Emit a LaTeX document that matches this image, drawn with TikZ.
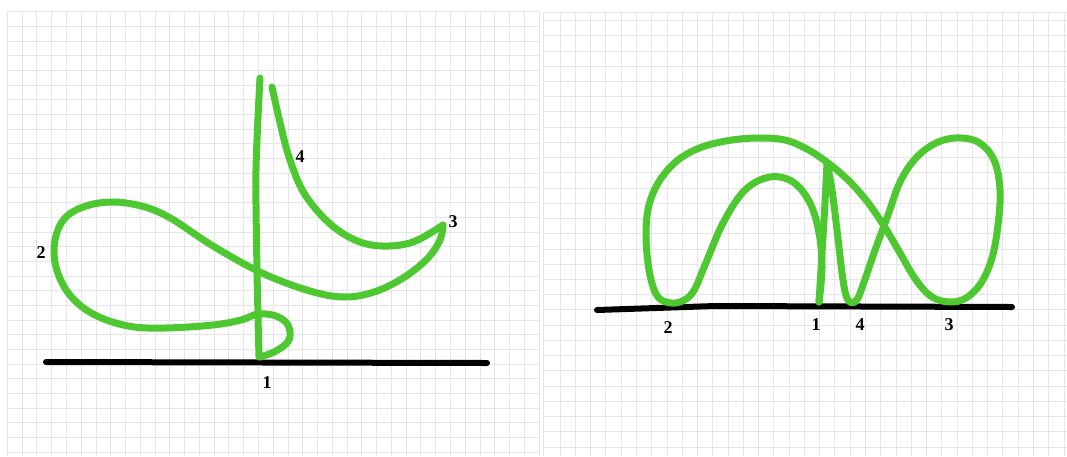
\documentclass[tikz,border=0pt]{standalone}
\usepackage{fontspec}
\setmainfont{Liberation Serif}
\definecolor{strokegreen}{RGB}{78,200,48}
\definecolor{gridgray}{RGB}{230,230,234}
\begin{document}
\begin{tikzpicture}[x=1pt,y=-1pt,
gridline/.style={draw=gridgray,line width=0.8pt},
greenline/.style={draw=strokegreen,line width=7pt,line cap=round,line join=round},
groundline/.style={draw=black,line width=6pt,line cap=round,line join=round},
numlabel/.style={font=\fontsize{18}{18}\selectfont\bfseries,inner sep=0pt}]
\useasboundingbox[fill=white] (0,0) rectangle (1067,456);
% squared paper, left sheet
\foreach \i in {0,...,36} \draw[gridline] (7.3+14.77*\i,11.7) -- (7.3+14.77*\i,456);
\foreach \j in {0,...,30} \draw[gridline] (7.3,11.7+14.68*\j) -- (540,11.7+14.68*\j);
% squared paper, right sheet
\draw[gridline] (543,12) -- (543,456);
\foreach \i in {0,...,33} \draw[gridline] (560+15.27*\i,12) -- (560+15.27*\i,456);
\draw[gridline] (543,12) -- (1067,12);
\foreach \j in {0,...,28} \draw[gridline] (543,20.5+15.23*\j) -- (1067,20.5+15.23*\j);

% left sketch
\draw[groundline] (46,362) -- (487,363);
\draw[greenline] plot[smooth] coordinates {(260,78) (256,170) (257,270) (259,357)};
\draw[greenline] plot[smooth,tension=0.6] coordinates {(260,357) (276,351) (289,340) (288,325) (276,316) (258,314) (241,320) (213,325) (165,328) (128,326) (93,314) (69,294) (56,267) (55,240) (65,218) (86,206) (114,202) (145,207) (172,219) (213,246) (262,273) (310,291) (344,297) (374,292) (403,278) (427,259) (440,240) (443,225)};
\draw[greenline] plot[smooth,tension=0.6] coordinates {(443,225) (413,242) (382,246) (355,240) (328,222) (304,193) (290,160) (281,127) (272,87)};
\node[numlabel] (l1) at (267,383) {1};
\node[numlabel] (l2) at (41,253) {2};
\node[numlabel] (l3) at (453,222) {3};
\node[numlabel] (l4) at (300,157) {4};

% right sketch
\draw[groundline] (597,310) -- (715,306) -- (1012,307);
\draw[greenline] plot[smooth,tension=0.6] coordinates {(819,302) (822,267) (819,233) (810,203) (793,182) (770,177) (745,190) (723,223) (705,265) (693,292) (680,302) (666,302) (656,294) (649,270) (646,235) (649,205) (660,180) (678,160) (702,147) (732,140) (760,138) (785,140) (805,148) (824,160) (846,178) (866,200) (884,226) (900,253) (916,280) (932,297) (950,302) (966,298) (981,283) (992,258) (998,225) (1000,190) (994,160) (978,142) (955,138) (934,144) (915,159) (900,182) (888,215) (874,253) (863,285) (856,301) (848,300) (843,280) (837,230) (832,190) (827,163)};
\draw[greenline] plot[smooth] coordinates {(827,163) (824,220) (819,302)};
\node[numlabel] (r1) at (816,325) {1};
\node[numlabel] (r2) at (668,328) {2};
\node[numlabel] (r3) at (949,325) {3};
\node[numlabel] (r4) at (860,325) {4};
\end{tikzpicture}
\end{document}
